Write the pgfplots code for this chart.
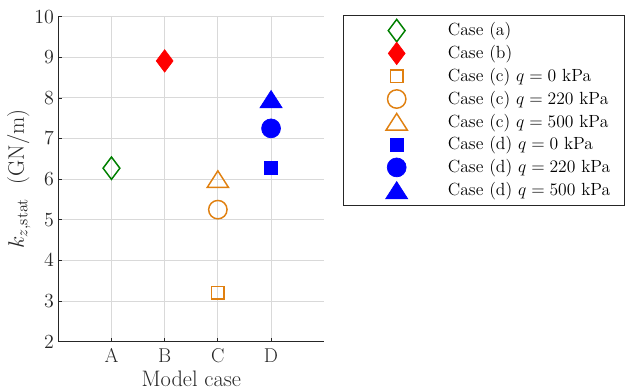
\RequirePackage{fix-cm}
\documentclass[border=0pt]{standalone}
\usepackage{pgfplots}
\pgfplotsset{compat=1.18}

\definecolor{cgreen}{rgb}{0,0.5,0}
\definecolor{corange}{RGB}{224,128,16}
\definecolor{axgray}{rgb}{0.15,0.15,0.15}

% wide, box-centred triangle marks
\pgfdeclareplotmark{wtri}{%
  \pgfpathmoveto{\pgfqpoint{0pt}{0.78\pgfplotmarksize}}%
  \pgfpathlineto{\pgfqpoint{\pgfplotmarksize}{-0.78\pgfplotmarksize}}%
  \pgfpathlineto{\pgfqpoint{-\pgfplotmarksize}{-0.78\pgfplotmarksize}}%
  \pgfpathclose
  \pgfusepathqstroke}
\pgfdeclareplotmark{wtri*}{%
  \pgfpathmoveto{\pgfqpoint{0pt}{0.78\pgfplotmarksize}}%
  \pgfpathlineto{\pgfqpoint{\pgfplotmarksize}{-0.78\pgfplotmarksize}}%
  \pgfpathlineto{\pgfqpoint{-\pgfplotmarksize}{-0.78\pgfplotmarksize}}%
  \pgfpathclose
  \pgfusepathqfillstroke}

\begin{document}
\begin{tikzpicture}
\useasboundingbox (-43.7pt,-37pt) rectangle (426.55pt,256.25pt);
\begin{axis}[
  scale only axis,
  width=199.5pt, height=243.75pt,
  xmin=0, xmax=5, ymin=2, ymax=10,
  xtick={1,2,3,4}, xticklabels={A,B,C,D},
  ytick={2,3,...,10},
  axis lines=left,
  axis line style={-, line width=0.9pt, color=axgray},
  tick align=inside,
  major tick length=3pt,
  tick style={line width=0.6pt, color=axgray},
  grid=major,
  major grid style={line width=0.75pt, color=black!15},
  tick label style={font=\fontsize{15}{18}\selectfont, color=axgray},
  yticklabel style={inner xsep=3pt},
  xticklabel style={inner ysep=5pt},
  label style={font=\fontsize{16.8}{20}\selectfont, color=axgray},
  xlabel={Model case},
  xlabel style={at={([yshift=-33.8pt]axis description cs:0.5,0)}, anchor=base, text depth=0pt, inner ysep=1pt},
  ylabel={$k_{z,\mathrm{stat}}$\ \ (GN/m)},
  ylabel style={at={([xshift=-25.7pt]axis description cs:0,0.5)}, anchor=base},
  legend cell align=left,
  legend image code/.code={%
    \path (-39.4pt,0pt) (35.85pt,0pt);
    \draw[#1] plot coordinates {(0pt,0pt)};},
  legend style={
    at={(1.0702,1.006)}, anchor=north west,
    draw=axgray, line width=0.75pt,
    inner xsep=0pt, inner ysep=3pt,
    row sep=0pt,
    font=\fontsize{13.2}{15}\selectfont,
    nodes={inner xsep=2pt, inner ysep=0pt, text height=12.5pt, text depth=4.6pt, text width=130.75pt},
  },
]
% Case (a)
\addplot[only marks, color=cgreen, mark=diamond, mark size=8.4pt, line width=1.1pt]
  coordinates {(1,6.27)};
\addlegendentry{Case (a)}
% Case (b)
\addplot[only marks, color=red, mark=diamond*, mark size=8.4pt, line width=0.5pt]
  coordinates {(2,8.91)};
\addlegendentry{Case (b)}
% Case (c)
\addplot[only marks, color=corange, mark=square, mark size=4.7pt, line width=1.1pt]
  coordinates {(3,3.21)};
\addlegendentry{Case (c) $q = 0$ kPa}
\addplot[only marks, color=corange, mark=o, mark size=6.9pt, line width=1.1pt]
  coordinates {(3,5.25)};
\addlegendentry{Case (c) $q = 220$ kPa}
\addplot[only marks, color=corange, mark=wtri, mark size=8pt, line width=1.1pt]
  coordinates {(3,6.00)};
\addlegendentry{Case (c) $q = 500$ kPa}
% Case (d)
\addplot[only marks, color=blue, mark=square*, mark size=5pt, line width=0.5pt]
  coordinates {(4,6.28)};
\addlegendentry{Case (d) $q = 0$ kPa}
\addplot[only marks, color=blue, mark=*, mark size=7.1pt, line width=0.5pt]
  coordinates {(4,7.25)};
\addlegendentry{Case (d) $q = 220$ kPa}
\addplot[only marks, color=blue, mark=wtri*, mark size=8.3pt, line width=0.5pt]
  coordinates {(4,7.97)};
\addlegendentry{Case (d) $q = 500$ kPa}
\end{axis}
\end{tikzpicture}
\end{document}
